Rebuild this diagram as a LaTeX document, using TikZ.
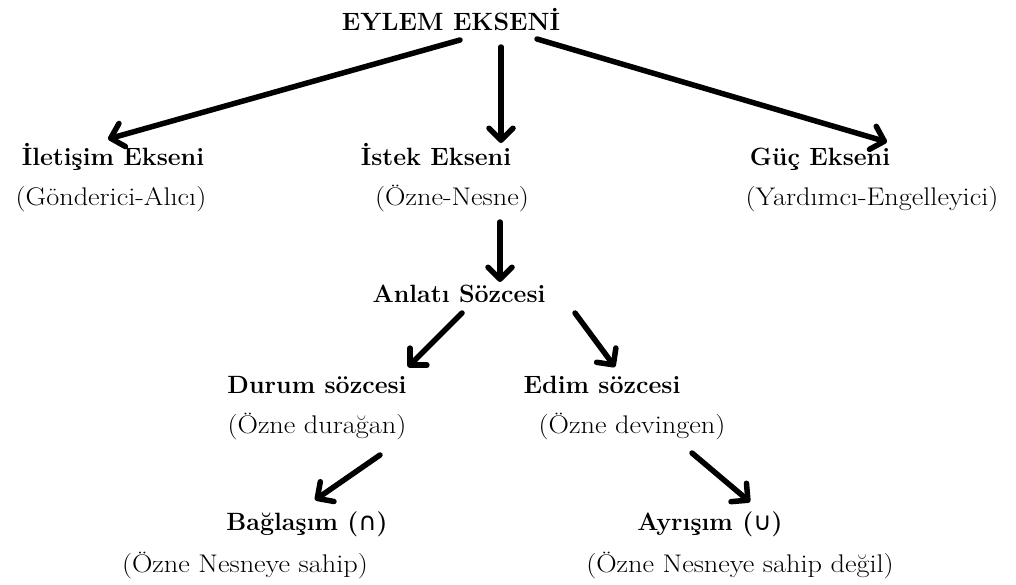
\documentclass[tikz,border=0pt]{standalone}
\usepackage{fontspec}
\newfontfamily\symfont{DejaVu Sans}
\usetikzlibrary{arrows.meta}
\tikzset{
  lbl/.style={anchor=base, inner sep=0pt, font=\fontsize{25}{30}\selectfont\bfseries},
  sub/.style={anchor=base, inner sep=0pt, font=\fontsize{25.5}{30}\selectfont,
    xscale=1.11, transform shape},
  conn/.style={line width=5.5pt, line cap=round,
    -{Straight Barb[length=12pt, width=24pt, round]}},
}
\newcommand{\setsym}[1]{{\symfont\mdseries #1}}
\begin{document}
\begin{tikzpicture}[x=1pt, y=-1pt]
\useasboundingbox (0,0) rectangle (1016,584);

% text of the tree
\node[lbl] (eylem)   at (451,30)  {EYLEM EKSENİ};
\node[lbl] (ilet)    at (113,165) {İletişim Ekseni};
\node[sub] (iletp)   at (111,205) {(Gönderici-Alıcı)};
\node[lbl] (istek)   at (436,165) {İstek Ekseni};
\node[sub] (istekp)  at (452,205) {(Özne-Nesne)};
\node[lbl] (guc)     at (820,165) {Güç Ekseni};
\node[sub] (gucp)    at (872,205) {(Yardımcı-Engelleyici)};
\node[lbl] (anlati)  at (459,302) {Anlatı Sözcesi};
\node[lbl] (durum)   at (317,393) {Durum sözcesi};
\node[sub] (durump)  at (317,433) {(Özne durağan)};
\node[lbl] (edim)    at (602,393) {Edim sözcesi};
\node[sub] (edimp)   at (632,433) {(Özne devingen)};
\node[lbl] (bag)     at (307,530) {Bağlaşım (\setsym{∩})};
\node[sub] (bagp)    at (245,572) {(Özne Nesneye sahip)};
\node[lbl] (ayr)     at (710,530) {Ayrışım (\setsym{∪})};
\node[sub] (ayrp)    at (740,572) {(Özne Nesneye sahip değil)};

% arrow end points
\coordinate (a1s) at (460,40);  \coordinate (a1e) at (108,139);
\coordinate (a2s) at (501,47);  \coordinate (a2e) at (501,143);
\coordinate (a3s) at (537,39);  \coordinate (a3e) at (887,142);
\coordinate (a4s) at (500,222); \coordinate (a4e) at (500,282);
\coordinate (a5s) at (462,313); \coordinate (a5e) at (408,367);
\coordinate (a6s) at (575,313); \coordinate (a6e) at (615,367);
\coordinate (a7s) at (380,455); \coordinate (a7e) at (315,500);
\coordinate (a8s) at (692,453); \coordinate (a8e) at (750,502);

\draw[conn] (a1s) -- (a1e);
\draw[conn] (a2s) -- (a2e);
\draw[conn] (a3s) -- (a3e);
\draw[conn] (a4s) -- (a4e);
\draw[conn] (a5s) -- (a5e);
\draw[conn] (a6s) -- (a6e);
\draw[conn] (a7s) -- (a7e);
\draw[conn] (a8s) -- (a8e);
\end{tikzpicture}
\end{document}
